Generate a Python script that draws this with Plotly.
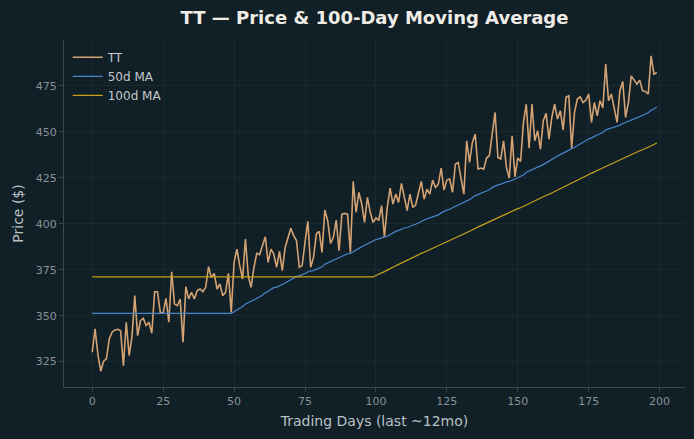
import numpy as np
import pandas as pd
import plotly.graph_objects as go

days = list(range(200))
price = [
    330.1, 342.8, 329.0, 319.8, 325.2, 326.5, 337.3, 341.0, 342.2, 342.6,
    341.8, 322.8, 346.4, 328.3, 338.3, 360.9, 339.1, 347.3, 348.6, 344.6,
    346.4, 340.4, 363.0, 363.0, 351.8, 351.4, 359.4, 346.4, 373.9, 356.3,
    355.4, 359.0, 335.5, 365.8, 359.1, 362.7, 359.1, 363.6, 364.5, 363.0,
    365.4, 376.6, 370.8, 373.0, 364.5, 367.2, 360.9, 362.7, 373.0, 351.8,
    379.0, 386.2, 377.2, 369.9, 391.7, 371.7, 365.4, 376.3, 383.9, 383.2,
    388.0, 392.9, 379.0, 386.2, 383.5, 376.3, 385.0, 374.5, 387.1, 392.6,
    397.5, 393.5, 390.8, 376.3, 377.2, 389.9, 401.3, 376.3, 381.7, 394.4,
    395.8, 384.4, 407.4, 401.6, 389.3, 392.6, 402.0, 385.3, 405.2, 405.6,
    405.2, 384.4, 423.0, 406.2, 417.0, 410.7, 400.7, 414.3, 406.2, 400.7,
    403.1, 402.0, 409.8, 392.9, 408.9, 419.4, 410.7, 416.1, 411.6, 421.9,
    413.4, 407.1, 416.1, 408.9, 410.3, 417.0, 423.0, 413.4, 418.8, 416.1,
    423.7, 419.7, 421.5, 430.2, 418.3, 423.7, 424.3, 417.0, 432.4, 433.3,
    425.2, 416.1, 445.1, 433.3, 444.2, 448.7, 429.7, 430.3, 429.7, 435.7,
    437.0, 450.5, 460.5, 436.0, 435.2, 445.1, 430.6, 424.8, 447.8, 425.5,
    435.7, 433.9, 455.1, 465.0, 441.1, 465.0, 445.1, 450.5, 440.6, 456.0,
    460.0, 446.0, 457.8, 465.0, 456.9, 461.4, 451.0, 468.7, 469.5, 441.0,
    460.5, 467.8, 469.0, 465.9, 467.2, 470.5, 455.1, 465.9, 458.7, 466.9,
    463.0, 486.8, 466.9, 470.5, 462.3, 455.1, 472.3, 477.4, 457.8, 465.9,
    480.4, 478.1, 475.9, 478.1, 472.3, 471.9, 470.5, 491.3, 481.3, 482.2,
]
x_ticks = [0, 25, 50, 75, 100, 125, 150, 175, 200]
y_ticks = [325, 350, 375, 400, 425, 450, 475]

s = pd.Series(price)
ma50 = s.rolling(50).mean().bfill().tolist()
ma100 = s.rolling(100).mean().bfill().tolist()

BG = "#111f27"
GRID = "#1a2930"
SPINE = "#3a4950"
TICK = "#899296"
LABEL = "#b9c1c5"
FONT = "DejaVu Sans"

fig = go.Figure()
fig.add_trace(go.Scatter(x=days, y=price, mode="lines", name="TT",
                         line=dict(color="#d4a373", width=1.6)))
fig.add_trace(go.Scatter(x=days, y=ma50, mode="lines", name="50d MA",
                         line=dict(color="#4a86cc", width=1.2)))
fig.add_trace(go.Scatter(x=days, y=ma100, mode="lines", name="100d MA",
                         line=dict(color="#c8a21a", width=1.2)))

fig.update_layout(
    width=694, height=439,
    margin=dict(l=64, r=9, t=40, b=52),
    paper_bgcolor=BG, plot_bgcolor=BG,
    font=dict(family=FONT, color=TICK, size=11),
    title=dict(text="<b>TT — Price & 100-Day Moving Average</b>",
               x=0.5, xref="paper", xanchor="center",
               y=1 - 18 / 439, yref="container", yanchor="middle",
               font=dict(family=FONT, size=18, color="#f0ece6")),
    showlegend=True,
    legend=dict(x=0.006, y=0.992, xanchor="left", yanchor="top",
                bgcolor="rgba(0,0,0,0)", font=dict(family=FONT, size=12, color="#c3c9cc"),
                tracegroupgap=0),
    xaxis=dict(range=[-9.95, 208.95], tickmode="array", tickvals=x_ticks,
               showgrid=True, gridcolor=GRID, gridwidth=1, zeroline=False,
               showline=True, linecolor=SPINE, linewidth=1,
               ticks="outside", ticklen=4, tickcolor=SPINE,
               tickfont=dict(family=FONT, size=11, color=TICK),
               title=dict(text="Trading Days (last ~12mo)", standoff=8,
                          font=dict(family=FONT, size=14, color=LABEL))),
    yaxis=dict(range=[311.2, 499.9], tickmode="array", tickvals=y_ticks,
               showgrid=True, gridcolor=GRID, gridwidth=1, zeroline=False,
               showline=True, linecolor=SPINE, linewidth=1,
               ticks="outside", ticklen=4, tickcolor=SPINE,
               tickfont=dict(family=FONT, size=11, color=TICK),
               title=dict(text="Price ($)", standoff=8,
                          font=dict(family=FONT, size=14, color=LABEL))),
)

fig.write_html("out.html")
